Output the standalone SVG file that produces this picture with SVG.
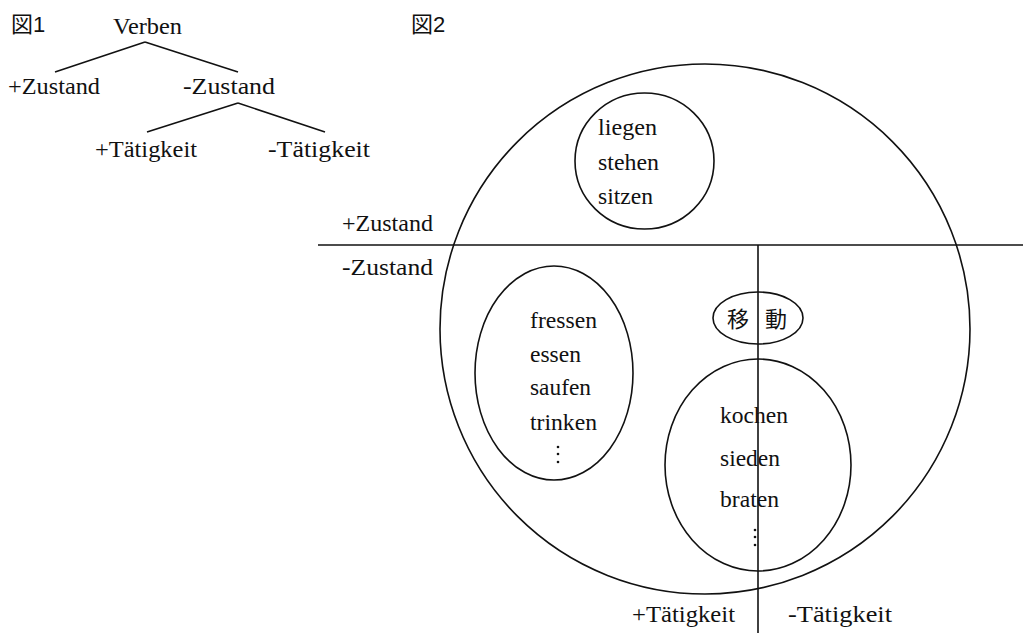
<svg xmlns="http://www.w3.org/2000/svg" width="1023" height="633" viewBox="0 0 1023 633">
<style>
  .t { font-family: "Liberation Serif", "Times New Roman", serif; font-size: 23px; fill: #111; }
  .cjk { font-family: "Noto Sans CJK JP", "Noto Sans CJK SC", sans-serif; font-size: 22px; fill: #111; }
  .ln { stroke: #111; stroke-width: 1.6; fill: none; }
  .dot { fill: #111; }
</style>
<rect width="1023" height="633" fill="#ffffff"/>

<!-- Figure 1 -->
<g id="fig1-title"><text x="11" y="32" class="cjk" font-size="21">図<tspan font-family="Liberation Sans, sans-serif">1</tspan></text></g>
<g id="fig1-connectors">
  <line class="ln" x1="145" y1="42" x2="55" y2="72"/>
  <line class="ln" x1="145" y1="42" x2="238" y2="72"/>
  <line class="ln" x1="238" y1="103" x2="147" y2="132"/>
  <line class="ln" x1="238" y1="103" x2="325" y2="132"/>
</g>
<g id="node-verben"><text class="t" x="113" y="34" textLength="69" lengthAdjust="spacingAndGlyphs">Verben</text></g>
<g id="node-plus-zustand"><text class="t" x="8" y="94" textLength="92" lengthAdjust="spacingAndGlyphs">+Zustand</text></g>
<g id="node-minus-zustand"><text class="t" x="183" y="94" textLength="92" lengthAdjust="spacingAndGlyphs">-Zustand</text></g>
<g id="node-plus-taetigkeit"><text class="t" x="95" y="157" textLength="102" lengthAdjust="spacingAndGlyphs">+Tätigkeit</text></g>
<g id="node-minus-taetigkeit"><text class="t" x="268" y="157" textLength="102" lengthAdjust="spacingAndGlyphs">-Tätigkeit</text></g>

<!-- Figure 2 -->
<g id="fig2-title"><text x="411" y="32" class="cjk" font-size="21">図<tspan font-family="Liberation Sans, sans-serif">2</tspan></text></g>
<g id="fig2-frame">
  <circle class="ln" cx="705" cy="329" r="265"/>
  <line class="ln" x1="318" y1="245" x2="1023" y2="245"/>
  <line class="ln" x1="758" y1="245" x2="758" y2="633"/>
  <text class="t" x="342" y="231" textLength="91" lengthAdjust="spacingAndGlyphs">+Zustand</text>
  <text class="t" x="342" y="275" textLength="91" lengthAdjust="spacingAndGlyphs">-Zustand</text>
  <text class="t" x="632" y="622" textLength="103" lengthAdjust="spacingAndGlyphs">+Tätigkeit</text>
  <text class="t" x="788" y="622" textLength="104" lengthAdjust="spacingAndGlyphs">-Tätigkeit</text>
</g>
<g id="group-zustand">
  <ellipse class="ln" cx="644.5" cy="161" rx="69.5" ry="68"/>
  <text class="t" x="598" y="135" textLength="59" lengthAdjust="spacingAndGlyphs">liegen</text>
  <text class="t" x="598" y="170" textLength="61" lengthAdjust="spacingAndGlyphs">stehen</text>
  <text class="t" x="598" y="204" textLength="55" lengthAdjust="spacingAndGlyphs">sitzen</text>
</g>
<g id="group-essen">
  <ellipse class="ln" cx="554" cy="373" rx="79" ry="107"/>
  <text class="t" x="530" y="328" textLength="67" lengthAdjust="spacingAndGlyphs">fressen</text>
  <text class="t" x="530" y="362" textLength="51" lengthAdjust="spacingAndGlyphs">essen</text>
  <text class="t" x="530" y="395" textLength="61" lengthAdjust="spacingAndGlyphs">saufen</text>
  <text class="t" x="530" y="430" textLength="67" lengthAdjust="spacingAndGlyphs">trinken</text>
  <circle class="dot" cx="558" cy="447" r="1.3"/>
  <circle class="dot" cx="558" cy="454" r="1.3"/>
  <circle class="dot" cx="558" cy="462" r="1.3"/>
</g>
<g id="group-idou">
  <ellipse class="ln" cx="758" cy="318" rx="45" ry="26"/>
  <text class="cjk" x="727" y="327">移</text>
  <text class="cjk" x="765" y="327">動</text>
</g>
<g id="group-kochen">
  <ellipse class="ln" cx="758" cy="465" rx="93" ry="106"/>
  <text class="t" x="720" y="423" textLength="68" lengthAdjust="spacingAndGlyphs">kochen</text>
  <text class="t" x="720" y="466" textLength="60" lengthAdjust="spacingAndGlyphs">sieden</text>
  <text class="t" x="720" y="507" textLength="59" lengthAdjust="spacingAndGlyphs">braten</text>
  <circle class="dot" cx="755" cy="530" r="1.3"/>
  <circle class="dot" cx="755" cy="537" r="1.3"/>
  <circle class="dot" cx="755" cy="545" r="1.3"/>
</g>
</svg>
